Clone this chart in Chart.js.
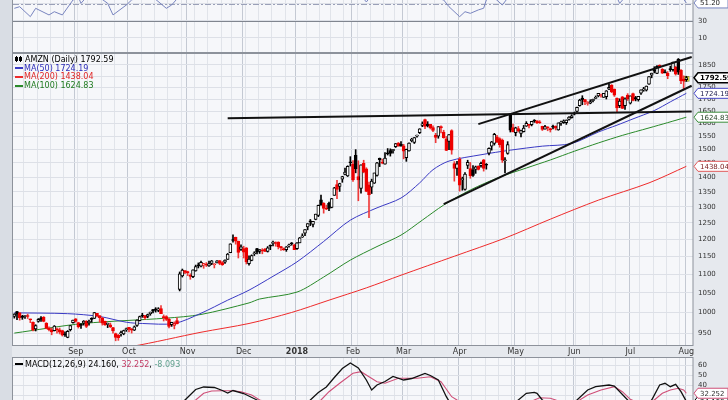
<!DOCTYPE html>
<html>
<head>
<meta charset="utf-8">
<script src="https://cdn.jsdelivr.net/npm/chart.js@4.4.0/dist/chart.umd.min.js"></script>
<style>
  html, body { margin: 0; padding: 0; width: 728px; height: 400px; overflow: hidden; background: #e6e9ee; }
  .strip { position: absolute; left: 0; top: 0; width: 12px; height: 400px; background: #d9dde4; }
  .panel { position: absolute; left: 0; width: 728px; }
  #rsiBox { top: -20px; height: 74px; }
  #priceBox { top: 53px; height: 304px; }
  #macdBox { top: 356px; height: 60px; }
</style>
</head>
<body>
<div class="strip"></div>
<div class="panel" id="rsiBox"><canvas id="rsi"></canvas></div>
<div class="panel" id="priceBox"><canvas id="price"></canvas></div>
<div class="panel" id="macdBox"><canvas id="macd"></canvas></div>
<script>
// trading days, Aug 2017 .. Aug 1 2018
const months = ['2017-08', '2017-09', '2017-10', '2017-11', '2017-12', '2018-01', '2018-02',
  '2018-03', '2018-04', '2018-05', '2018-06', '2018-07', '2018-08'];
const monthTicks = ['', 'Sep', 'Oct', 'Nov', 'Dec', '2018', 'Feb', 'Mar', 'Apr', 'May', 'Jun', 'Jul', 'Aug'];
const monthDays = [
  [1,2,3,4,7,8,9,10,11,14,15,16,17,18,21,22,23,24,25,28,29,30,31],
  [1,5,6,7,8,11,12,13,14,15,18,19,20,21,22,25,26,27,28,29],
  [2,3,4,5,6,9,10,11,12,13,16,17,18,19,20,23,24,25,26,27,30,31],
  [1,2,3,6,7,8,9,10,13,14,15,16,17,20,21,22,24,27,28,29,30],
  [1,4,5,6,7,8,11,12,13,14,15,18,19,20,21,22,26,27,28,29],
  [2,3,4,5,8,9,10,11,12,16,17,18,19,22,23,24,25,26,29,30,31],
  [1,2,5,6,7,8,9,12,13,14,15,16,20,21,22,23,26,27,28],
  [1,2,5,6,7,8,9,12,13,14,15,16,19,20,21,22,23,26,27,28,29],
  [2,3,4,5,6,9,10,11,12,13,16,17,18,19,20,23,24,25,26,27,30],
  [1,2,3,4,7,8,9,10,11,14,15,16,17,18,21,22,23,24,25,29,30,31],
  [1,4,5,6,7,8,11,12,13,14,15,18,19,20,21,22,25,26,27,28,29],
  [2,3,5,6,9,10,11,12,13,16,17,18,19,20,23,24,25,26,27,30,31],
  [1]
];

const opens = [
  990,1002,999,990,990,992,983,976,960,978,987,988,974,962,958,956,960,958,956,947,940,958,975,
  984,975,971,974,979,975,985,985,998,992,986,978,971,970,963,949,945,948,948,958,
  964,960,957,968,980,991,992,990,997,1007,1009,1005,1010,990,990,983,970,968,980,1059,1095,1110,
  1105,1097,1093,1109,1124,1122,1125,1126,1123,1130,1126,1131,1138,1132,1133,1141,1160,1198,1205,1194,1170,
  1172,1174,1129,1138,1157,1172,1164,1167,1170,1164,1179,1187,1189,1191,1175,1172,1169,1180,1189,1183,
  1172,1189,1206,1218,1237,1256,1245,1260,1273,1323,1312,1294,1312,1298,1338,1374,1368,1393,1409,1404,1451,
  1445,1478,1402,1361,1449,1429,1373,1365,1379,1406,1467,1451,1446,1485,1495,1495,1510,1524,1519,
  1513,1469,1494,1533,1526,1550,1564,1592,1615,1597,1596,1583,1554,1550,1587,1566,1540,1530,1572,1448,1431,
  1464,1391,1358,1441,1430,1426,1427,1439,1440,1461,1443,1486,1512,1522,1547,1541,1535,1458,1485,1634,1583,
  1564,1580,1561,1567,1589,1596,1595,1611,1610,1604,1588,1577,1582,1580,1586,1589,1574,1601,1603,1603,1616,1623,
  1637,1648,1672,1704,1698,1681,1682,1693,1703,1713,1715,1707,1710,1742,1760,1743,1703,1672,1709,1672,1717,
  1683,1723,1706,1697,1725,1739,1738,1764,1804,1822,1812,1849,1830,1819,1812,1829,1829,1839,1876,1827,1786,
  1784
];
const highs = [
  997,1003,1000,993,992,996,984,977,970,985,990,990,975,965,962,968,962,962,957,953,956,968,981,
  985,976,973,980,980,981,987,1000,998,992,988,979,974,974,964,950,947,955,957,962,
  964,961,967,982,991,998,993,996,1001,1008,1012,1012,1017,994,992,986,976,977,987,1106,1114,1110,
  1108,1101,1112,1125,1131,1136,1130,1132,1136,1138,1129,1138,1138,1135,1140,1158,1186,1213,1206,1194,1183,
  1179,1175,1151,1154,1163,1173,1169,1172,1173,1178,1183,1194,1192,1192,1179,1174,1178,1185,1190,1185,
  1190,1205,1216,1229,1247,1260,1254,1277,1306,1339,1314,1306,1316,1328,1365,1389,1379,1403,1432,1440,1473,
  1459,1499,1458,1443,1460,1433,1383,1393,1414,1452,1468,1464,1488,1503,1502,1500,1522,1526,1529,
  1519,1501,1525,1542,1545,1554,1579,1606,1617,1607,1596,1590,1561,1587,1590,1573,1549,1556,1575,1455,1456,
  1470,1400,1416,1460,1452,1441,1439,1440,1453,1463,1448,1506,1530,1561,1553,1544,1539,1470,1529,1638,1597,
  1585,1588,1574,1592,1607,1596,1608,1615,1611,1611,1589,1592,1587,1581,1593,1590,1602,1609,1614,1614,1627,1635,
  1646,1666,1699,1714,1699,1689,1697,1700,1713,1724,1721,1724,1736,1763,1762,1743,1705,1701,1711,1705,1723,
  1713,1725,1711,1710,1739,1750,1756,1797,1813,1842,1847,1851,1834,1828,1820,1845,1864,1845,1880,1829,1801,
  1799
];
const lows = [
  986,982,981,983,985,985,975,955,955,976,978,977,960,955,946,955,950,948,943,942,939,955,974,
  976,962,961,969,963,969,976,985,989,976,969,968,963,963,950,932,933,943,946,954,
  953,950,956,966,979,988,983,987,993,999,1001,1002,997,979,980,962,966,960,972,1055,1092,1101,
  1096,1086,1090,1108,1117,1120,1116,1121,1121,1126,1117,1131,1126,1124,1130,1141,1160,1191,1185,1145,1167,
  1145,1128,1125,1137,1152,1157,1158,1157,1163,1162,1169,1180,1179,1171,1167,1167,1164,1176,1182,1170,
  1170,1189,1205,1210,1228,1241,1237,1259,1269,1307,1280,1291,1288,1297,1338,1327,1351,1382,1408,1402,1439,
  1385,1415,1320,1345,1415,1350,1266,1344,1378,1403,1437,1447,1446,1479,1475,1486,1507,1512,1512,
  1465,1456,1493,1528,1522,1546,1560,1587,1579,1586,1578,1567,1525,1542,1563,1542,1495,1499,1482,1386,1406,
  1352,1355,1355,1430,1396,1402,1413,1425,1435,1421,1428,1479,1497,1516,1525,1508,1452,1415,1482,1566,1566,
  1551,1566,1547,1566,1588,1582,1590,1604,1599,1600,1572,1577,1571,1566,1578,1574,1573,1592,1600,1596,1613,1621,
  1634,1645,1670,1676,1676,1674,1680,1688,1701,1709,1708,1707,1700,1740,1727,1711,1646,1664,1660,1657,1694,
  1679,1692,1692,1691,1719,1733,1734,1763,1792,1814,1811,1837,1811,1814,1788,1821,1822,1804,1807,1766,1739,
  1776
];
const closes = [
  996,996,987,988,992,990,982,957,968,983,983,978,961,958,953,967,958,952,945,946,954,968,981,
  978,965,968,979,966,978,983,1000,992,987,974,970,973,965,955,940,939,951,956,961,
  959,957,965,981,990,991,987,995,1001,1003,1006,1009,997,987,983,966,976,973,972,1101,1111,1105,
  1104,1094,1112,1121,1123,1133,1129,1125,1129,1137,1127,1137,1130,1126,1139,1156,1186,1196,1194,1161,1177,
  1162,1134,1142,1152,1160,1162,1169,1165,1164,1174,1179,1191,1187,1178,1175,1168,1177,1182,1186,1169,
  1189,1204,1210,1229,1247,1253,1254,1277,1305,1305,1295,1293,1295,1327,1363,1358,1378,1402,1418,1438,1451,
  1390,1430,1390,1443,1417,1351,1340,1386,1415,1451,1462,1449,1468,1483,1485,1500,1522,1512,1512,
  1493,1500,1524,1538,1545,1552,1579,1598,1588,1591,1582,1572,1545,1587,1582,1544,1496,1556,1497,1431,1447,
  1372,1392,1411,1452,1405,1406,1436,1427,1449,1431,1442,1504,1528,1557,1527,1518,1460,1460,1518,1573,1566,
  1582,1570,1572,1581,1600,1592,1608,1609,1603,1602,1576,1587,1582,1574,1585,1581,1602,1603,1610,1613,1625,1630,
  1642,1665,1696,1696,1689,1684,1689,1699,1705,1724,1716,1724,1735,1750,1730,1716,1663,1691,1661,1701,1700,
  1714,1694,1700,1711,1739,1743,1755,1797,1813,1822,1844,1843,1813,1814,1802,1829,1864,1808,1817,1779,1777,
  1792.59
];

// moving averages (day index, value)
const ma50Days = [0, 20, 32, 42, 48, 60, 70, 80, 88, 97, 106, 116, 126, 136, 145, 152, 157, 163, 175, 186, 198, 209, 219, 226, 232, 240, 246, 252];
const ma50 = [999, 997, 990, 976, 973, 973, 998, 1031, 1057, 1094, 1134, 1193, 1258, 1297, 1329, 1380, 1426, 1457, 1480, 1497, 1512, 1522, 1566, 1593, 1618, 1652, 1688, 1724.19];
const ma100Days = [0, 26, 57, 70, 88, 92, 106, 116, 126, 136, 145, 153, 161, 171, 182, 192, 201, 210, 219, 228, 238, 245, 252];
const ma100 = [950, 973, 986, 995, 1024, 1034, 1052, 1092, 1139, 1178, 1212, 1258, 1306, 1356, 1400, 1432, 1461, 1493, 1524, 1553, 1582, 1603, 1624.83];
const ma200Days = [0, 44, 70, 88, 104, 118, 132, 145, 165, 184, 201, 219, 238, 252];
const ma200 = [880, 919, 952, 973, 1000, 1031, 1063, 1097, 1150, 1203, 1261, 1322, 1380, 1438.04];

// hand drawn trend lines (day index, price)
const resistanceLine = [[80, 1621], [254, 1648]];
const channelTop = [[174, 1597], [254, 1887]];
const channelBottom = [[161, 1309], [254, 1757]];

const priceTicks = [950, 1000, 1050, 1100, 1150, 1200, 1250, 1300, 1350, 1400, 1450, 1500,
  1550, 1600, 1650, 1700, 1750, 1800, 1850];

// RSI(14), only the lower part of the panel is in view
const rsiDays = [0, 2, 6, 8, 13, 15, 18, 22, 24, 25, 27, 30, 35, 37, 42, 44, 48, 52, 57, 59, 61, 66, 75, 90, 110,
  125, 130, 132, 134, 140, 150, 158, 161, 163, 167, 169, 171, 174, 176, 177, 179, 183, 185, 190, 200, 215, 225,
  227, 229, 240, 250, 252];
const rsi = [44.9, 46.8, 35.1, 44.9, 37.1, 40.9, 37.1, 54.7, 58, 50.8, 58, 62, 50.8, 37.1, 48.8, 54.7, 60, 58,
  44.9, 48.8, 56, 66, 72, 65, 75, 62, 60, 52.4, 60, 63, 58, 57, 54.7, 46.8, 35.1, 40.9, 39, 43, 45, 54.7, 60,
  48.8, 57, 62, 68, 70, 64, 50.8, 58, 62, 60, 51.2];
const rsiTicks = [10, 30, 50, 70];

// MACD(12,26,9)
const macdDays = [0, 20, 40, 55, 62, 64, 68, 71, 75, 78, 80, 82, 86, 91, 100, 108, 111, 114, 117, 120, 123, 126,
  129, 132, 134, 136, 139, 142, 146, 149, 154, 156, 159, 162, 164, 170, 180, 189, 192, 195, 196, 198, 205, 211,
  215, 218, 223, 225, 230, 235, 239, 242, 244, 246, 248, 250, 252];
const macd = [5, -5, 2, 10, 20, 25.5, 36, 38.5, 38, 35, 32.5, 35, 32, 25.5, 15, 20, 25.5, 33, 38.5, 48, 57, 62.5,
  57.5, 45.5, 35.5, 40.5, 44, 49, 45.5, 47, 52, 50, 45.5, 28.8, 20, 5, 15, 25.5, 32.2, 33.2, 32.2, 25.5, 15,
  25.5, 35.5, 38.8, 40.5, 39.5, 25.5, 15, 25.5, 40.5, 42.2, 38.8, 41.2, 33.8, 24.16];
const signalDays = [0, 20, 40, 60, 66, 68, 71, 74, 78, 82, 85, 89, 92, 100, 110, 115, 118, 122, 127, 130, 133,
  136, 139, 144, 151, 156, 160, 164, 166, 175, 185, 195, 197, 201, 203, 208, 212, 215, 220, 225, 228, 231, 236,
  240, 243, 246, 249, 251, 252];
const signal = [8, -2, 0, 12, 22, 25.5, 32.2, 34.5, 34.8, 34.8, 33.8, 30.5, 25.5, 20, 18, 25.5, 33.8, 42.2, 52.2,
  53.8, 48.8, 43.8, 42.2, 47.2, 47.2, 48.8, 43.8, 28.8, 25.5, 12, 12, 25.5, 27.8, 27.2, 25.5, 20, 25.5, 30.5,
  35.5, 38.8, 33.8, 26.2, 20, 25.5, 32.2, 35.5, 37.2, 35.5, 32.252];
const macdHist = -8.093;
const macdTicks = [20, 30, 40, 50, 60];

// ---------------------------------------------------------------
const FONT = '"DejaVu Sans", Verdana, sans-serif';
Chart.defaults.font.family = FONT;
Chart.defaults.font.size = 7;
Chart.defaults.color = '#333';

const dates = [];
const tickLabel = [];
const monthStart = new Set();
const weekStart = new Set();
months.forEach((m, mi) => {
  monthDays[mi].forEach((d, di) => {
    const idx = dates.length;
    dates.push(m + '-' + String(d).padStart(2, '0'));
    tickLabel.push(di === 0 ? monthTicks[mi] : '');
    if (di === 0 && mi > 0) monthStart.add(idx);
  });
});
dates.forEach((d, i) => {
  if (i === 0) return;
  const cur = new Date(d + 'T12:00:00'), prev = new Date(dates[i - 1] + 'T12:00:00');
  if (cur.getDay() <= prev.getDay() || cur - prev > 4 * 864e5) weekStart.add(i);
});
// two empty slots after the last bar
const labels = dates.concat(['', ' ']);
const last = dates.length - 1;

const pts = (days, vals) => days.map((d, i) => ({ x: labels[d], y: vals[i] }));
const seg = line => line.map(p => ({ x: labels[p[0]], y: p[1] }));

const gridColor = i => monthStart.has(i) ? '#c4c9d3' : (weekStart.has(i) ? '#e1e4ea' : 'rgba(0,0,0,0)');

function xAxis(showLabels) {
  return {
    type: 'category',
    offset: true,
    grid: { offset: true, drawTicks: false, color: ctx => gridColor(ctx.index) },
    border: { display: false },
    ticks: {
      display: showLabels,
      autoSkip: false,
      maxRotation: 0,
      padding: 1,
      color: '#333',
      font: ctx => ({ size: 8, weight: tickLabel[ctx.index] === '2018' ? 'bold' : 'normal' }),
      callback: (v, i) => tickLabel[i] || ''
    },
    afterFit: s => {
      s.height = showLabels ? 11 : 0;
      s.paddingLeft = 0; s.paddingRight = 0;
    }
  };
}

function yAxis(extra) {
  return Object.assign({
    position: 'right',
    grid: { drawTicks: false, color: '#dde0e7' },
    border: { display: false },
    ticks: { padding: 5, color: '#333', font: { size: 7 } },
    afterFit: s => {
      s.width = 35;
      s.paddingTop = 0; s.paddingBottom = 0;
    }
  }, extra);
}

const panelFrame = {
  id: 'panelFrame',
  beforeDraw(chart) {
    const { ctx, chartArea: a } = chart;
    ctx.save();
    ctx.fillStyle = '#f6f7fa';
    ctx.fillRect(a.left, a.top, a.right - a.left, a.bottom - a.top);
    ctx.restore();
  },
  afterDatasetsDraw(chart) {
    const { ctx, chartArea: a } = chart;
    ctx.save();
    ctx.strokeStyle = '#8d929b';
    ctx.lineWidth = 1;
    ctx.strokeRect(Math.round(a.left) - 0.5, Math.round(a.top) + 0.5,
      Math.round(a.right - a.left) + 0.5, Math.round(a.bottom - a.top) - 1);
    ctx.restore();
  }
};

function flag(ctx, x, y, text, stroke, color, bold) {
  ctx.font = (bold ? 'bold ' : '') + '7px ' + FONT;
  const w = Math.max(30, ctx.measureText(text).width + 4);
  const h = 10;
  ctx.beginPath();
  ctx.moveTo(x, y);
  ctx.lineTo(x + 4, y - h / 2);
  ctx.lineTo(x + 4 + w, y - h / 2);
  ctx.lineTo(x + 4 + w, y + h / 2);
  ctx.lineTo(x + 4, y + h / 2);
  ctx.closePath();
  ctx.fillStyle = '#ffffff';
  ctx.fill();
  ctx.lineWidth = bold ? 1.5 : 1;
  ctx.strokeStyle = stroke;
  ctx.stroke();
  ctx.fillStyle = color;
  ctx.textBaseline = 'middle';
  ctx.textAlign = 'left';
  ctx.fillText(text, x + 6, y + 0.5);
}

function legendRow(ctx, x, y, parts) {
  let cx = x;
  parts.forEach(p => {
    ctx.fillStyle = p[1];
    ctx.fillText(p[0], cx, y);
    cx += ctx.measureText(p[0]).width;
  });
}

const common = {
  responsive: true,
  maintainAspectRatio: false,
  animation: false,
  devicePixelRatio: 1,
  events: [],
  plugins: { legend: { display: false }, tooltip: { enabled: false } }
};

// ---------------- RSI panel ----------------
new Chart(document.getElementById('rsi'), {
  type: 'line',
  data: {
    labels,
    datasets: [{
      data: pts(rsiDays, rsi), borderColor: '#7884bf', borderWidth: 1, pointRadius: 0, tension: 0
    }]
  },
  options: Object.assign({}, common, {
    layout: { padding: { left: 13, right: 0, top: 0, bottom: 1 } },
    scales: {
      x: xAxis(false),
      y: yAxis({
        min: -7.65, max: 78.2,
        afterBuildTicks: s => { s.ticks = rsiTicks.map(v => ({ value: v })); }
      })
    }
  }),
  plugins: [panelFrame, {
    id: 'rsiExtras',
    beforeDatasetsDraw(chart) {
      const { ctx, chartArea: a, scales } = chart;
      ctx.save();
      // oversold level, solid
      const y30 = Math.round(scales.y.getPixelForValue(30)) + 0.5;
      ctx.strokeStyle = '#80858f';
      ctx.beginPath();
      ctx.moveTo(a.left, y30);
      ctx.lineTo(a.right, y30);
      ctx.stroke();
      // centre line, dash-dot
      const y50 = Math.round(scales.y.getPixelForValue(50)) + 0.5;
      ctx.strokeStyle = '#9aa0b8';
      ctx.setLineDash([6, 2, 2, 2]);
      ctx.beginPath();
      ctx.moveTo(a.left, y50);
      ctx.lineTo(a.right, y50);
      ctx.stroke();
      ctx.restore();
    },
    afterDraw(chart) {
      const { ctx, chartArea: a, scales } = chart;
      ctx.save();
      flag(ctx, a.right + 1, scales.y.getPixelForValue(rsi[rsi.length - 1]), rsi[rsi.length - 1].toFixed(2), '#7884bf', '#222', false);
      ctx.restore();
    }
  }]
});

// ---------------- price panel ----------------
const candleColor = i => (i === 0 ? closes[i] >= opens[i] : closes[i] >= closes[i - 1]) ? '#000000' : '#ee0000';
const bodyFill = i => closes[i] > opens[i] ? '#ffffff' : candleColor(i);
const maColors = { ma50: '#3a3ac4', ma100: '#2a8a2a', ma200: '#ee2b2b' };

new Chart(document.getElementById('price'), {
  type: 'bar',
  data: {
    labels,
    datasets: [
      { type: 'line', data: seg(resistanceLine), borderColor: '#111', borderWidth: 2, pointRadius: 0 },
      { type: 'line', data: seg(channelTop), borderColor: '#111', borderWidth: 2, pointRadius: 0 },
      { type: 'line', data: seg(channelBottom), borderColor: '#111', borderWidth: 2, pointRadius: 0 },
      {
        data: dates.map((d, i) => [Math.min(opens[i], closes[i]), Math.max(opens[i], closes[i])]),
        backgroundColor: ctx => bodyFill(ctx.dataIndex),
        borderColor: ctx => candleColor(ctx.dataIndex),
        borderWidth: 1, borderSkipped: false, barThickness: 3, minBarLength: 1, grouped: false
      },
      {
        data: dates.map((d, i) => [lows[i], highs[i]]),
        backgroundColor: ctx => candleColor(ctx.dataIndex) === '#000000' ? '#000000' : '#f03a3a',
        borderWidth: 0, barThickness: 1, grouped: false
      },
      {
        // highlight box behind the latest bar
        data: dates.map((d, i) => i === last ? [lows[i], highs[i]] : null),
        backgroundColor: '#ffff33', borderColor: '#8a8a40', borderWidth: 1, borderSkipped: false,
        barThickness: 6, grouped: false
      },
      { type: 'line', data: pts(ma50Days, ma50), borderColor: maColors.ma50, borderWidth: 1, pointRadius: 0, tension: 0.3 },
      { type: 'line', data: pts(ma100Days, ma100), borderColor: maColors.ma100, borderWidth: 1, pointRadius: 0, tension: 0.3 },
      { type: 'line', data: pts(ma200Days, ma200), borderColor: maColors.ma200, borderWidth: 1, pointRadius: 0, tension: 0.3 }
    ]
  },
  options: Object.assign({}, common, {
    layout: { padding: { left: 13, right: 0, top: 0, bottom: 0 } },
    scales: {
      x: xAxis(true),
      y: yAxis({
        type: 'logarithmic', min: 920, max: 1906,
        afterBuildTicks: s => { s.ticks = priceTicks.map(v => ({ value: v })); },
        ticks: { padding: 5, color: '#333', font: { size: 7 }, callback: v => String(v) }
      })
    }
  }),
  plugins: [panelFrame, {
    id: 'priceExtras',
    afterDraw(chart) {
      const { ctx, chartArea: a, scales } = chart;
      const y = scales.y;
      ctx.save();
      // legend
      ctx.font = '8px ' + FONT;
      ctx.textBaseline = 'middle';
      const lx = a.left + 2;
      // little candle icon
      ctx.fillStyle = '#000';
      ctx.fillRect(lx + 1, 3, 1, 6); ctx.fillRect(lx, 4, 3, 4);
      ctx.fillRect(lx + 5, 3, 1, 6); ctx.strokeStyle = '#000'; ctx.lineWidth = 1; ctx.strokeRect(lx + 4.5, 4.5, 2, 3);
      legendRow(ctx, lx + 10, 6.5, [['AMZN (Daily) ' + closes[last].toFixed(2), '#000']]);
      const rows = [
        ['MA(50) ' + ma50[ma50.length - 1].toFixed(2), maColors.ma50, '#2b2bb8'],
        ['MA(200) ' + ma200[ma200.length - 1].toFixed(2), maColors.ma200, '#e02424'],
        ['MA(100) ' + ma100[ma100.length - 1].toFixed(2), maColors.ma100, '#1f7a1f']
      ];
      rows.forEach((r, i) => {
        const ry = 15 + i * 8.8;
        ctx.fillStyle = r[1];
        ctx.fillRect(lx, Math.round(ry) - 1, 8, 2);
        legendRow(ctx, lx + 9, ry + 0.5, [[r[0], r[2]]]);
      });
      // price flags on the right axis
      const fx = a.right + 1;
      flag(ctx, fx, y.getPixelForValue(ma200[ma200.length - 1]), ma200[ma200.length - 1].toFixed(2), '#e05a5a', '#7a1c1c', false);
      flag(ctx, fx, y.getPixelForValue(ma100[ma100.length - 1]), ma100[ma100.length - 1].toFixed(2), '#3c8f3c', '#1d3d1d', false);
      flag(ctx, fx, y.getPixelForValue(ma50[ma50.length - 1]), ma50[ma50.length - 1].toFixed(2), '#4848c8', '#1c1c50', false);
      flag(ctx, fx, y.getPixelForValue(closes[last]), closes[last].toFixed(2), '#000', '#000', true);
      ctx.restore();
    }
  }]
});

// ---------------- MACD panel ----------------
new Chart(document.getElementById('macd'), {
  type: 'line',
  data: {
    labels,
    datasets: [
      { data: pts(macdDays, macd), borderColor: '#111', borderWidth: 1.3, pointRadius: 0, tension: 0 },
      { data: pts(signalDays, signal), borderColor: '#cf4f78', borderWidth: 1.1, pointRadius: 0, tension: 0 }
    ]
  },
  options: Object.assign({}, common, {
    layout: { padding: { left: 13, right: 0, top: 1, bottom: 0 } },
    scales: {
      x: xAxis(false),
      y: yAxis({
        min: 9.5, max: 68.5,
        afterBuildTicks: s => { s.ticks = macdTicks.map(v => ({ value: v })); }
      })
    }
  }),
  plugins: [panelFrame, {
    id: 'macdExtras',
    afterDraw(chart) {
      const { ctx, chartArea: a, scales } = chart;
      ctx.save();
      ctx.font = '8px ' + FONT;
      ctx.textBaseline = 'middle';
      const lx = a.left + 2;
      ctx.fillStyle = '#000';
      ctx.fillRect(lx, 7, 8, 2);
      legendRow(ctx, lx + 10, 8.5, [
        ['MACD(12,26,9) ' + macd[macd.length - 1].toFixed(3), '#000'],
        [', ', '#000'],
        [signal[signal.length - 1].toFixed(3), '#c23a63'],
        [', ', '#000'],
        [macdHist.toFixed(3), '#5fa08c']
      ]);
      const fx = a.right + 1;
      flag(ctx, fx, scales.y.getPixelForValue(macd[macd.length - 1]), macd[macd.length - 1].toFixed(3), '#000', '#000', false);
      flag(ctx, fx, scales.y.getPixelForValue(signal[signal.length - 1]), signal[signal.length - 1].toFixed(3), '#cf4f78', '#333', false);
      ctx.restore();
    }
  }]
});
</script>
</body>
</html>
